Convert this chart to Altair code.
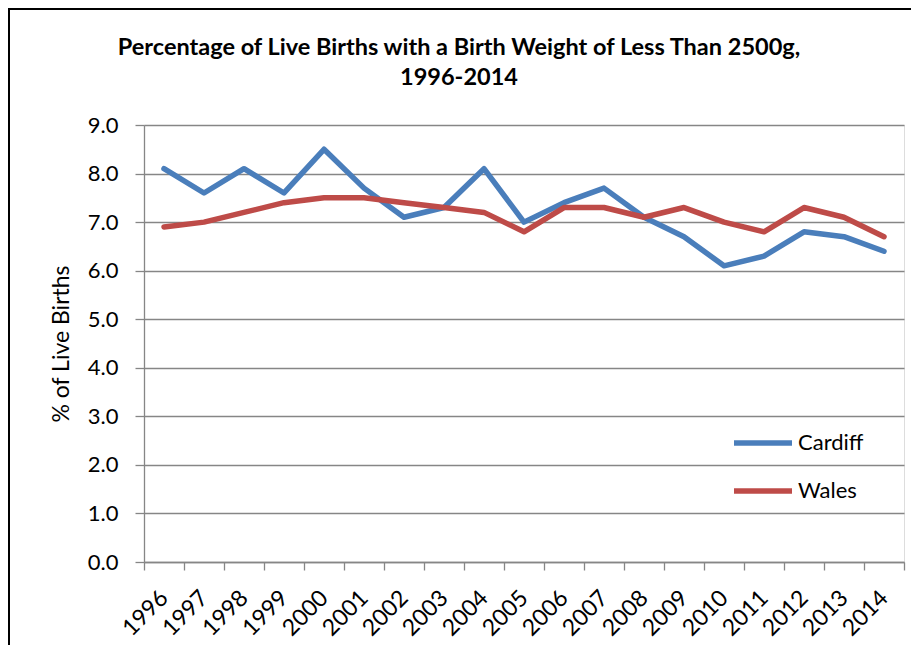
import altair as alt
import pandas as pd

years = [str(y) for y in range(1996, 2015)]
cardiff = [8.1, 7.6, 8.1, 7.6, 8.5, 7.7, 7.1, 7.3, 8.1, 7.0, 7.4, 7.7, 7.1, 6.7, 6.1, 6.3, 6.8, 6.7, 6.4]
wales = [6.9, 7.0, 7.2, 7.4, 7.5, 7.5, 7.4, 7.3, 7.2, 6.8, 7.3, 7.3, 7.1, 7.3, 7.0, 6.8, 7.3, 7.1, 6.7]
series_names = ["Cardiff", "Wales"]
series_colors = ["#4A7EBB", "#BE4B48"]
y_ticks = [0, 1, 2, 3, 4, 5, 6, 7, 8, 9]
title_lines = ["Percentage of Live Births with a Birth Weight of Less Than 2500g,", "1996-2014"]
y_title = "% of Live Births"

rows = []
for name, vals in zip(series_names, [cardiff, wales]):
    for yr, v in zip(years, vals):
        rows.append({"Year": yr, "Series": name, "Value": v})
df = pd.DataFrame(rows)

FONT = "Lato"
GRID = "#868686"
W, H = 760, 437

lines = alt.Chart(df).mark_line(strokeWidth=5.5, strokeCap="round", strokeJoin="round").encode(
    x=alt.X("Year:O", bandPosition=0.5,
            scale=alt.Scale(type="band", paddingInner=0, paddingOuter=0),
            axis=alt.Axis(title=None, labelAngle=-45, labelAlign="right", labelBaseline="middle",
                          labelFont=FONT, labelFontSize=23, labelColor="black", labelPadding=24,
                          tickBand="extent", tickSize=8, tickColor=GRID, tickWidth=1.3,
                          domainColor=GRID, domainWidth=1.3, grid=False, labelOverlap=False)),
    y=alt.Y("Value:Q", scale=alt.Scale(domain=[0, 9], nice=False),
            axis=alt.Axis(values=y_ticks, format=".1f", title=y_title,
                          titleFont=FONT, titleFontSize=23, titleFontWeight="normal", titleColor="black",
                          titleAngle=-90, titleX=-83, titleY=H / 2, titleAlign="center", titleBaseline="middle",
                          labelFont=FONT, labelFontSize=22, labelColor="black", labelPadding=17,
                          tickSize=9, tickColor=GRID, tickWidth=1.3,
                          domainColor=GRID, domainWidth=1.3,
                          grid=True, gridColor=GRID, gridWidth=1.3)),
    color=alt.Color("Series:N", scale=alt.Scale(domain=series_names, range=series_colors),
                    legend=alt.Legend(title=None, orient="none", legendX=587, legendY=286,
                                      symbolType="stroke", symbolSize=3364, symbolStrokeWidth=5.5,
                                      labelFont=FONT, labelFontSize=22, labelColor="black",
                                      labelOffset=3, rowPadding=5)),
)

frame_left = alt.Chart(df).mark_rule(color="black", strokeWidth=2).encode(
    x=alt.value(-135), y=alt.value(-117), y2=alt.value(H + 83))
frame_top = alt.Chart(df).mark_rule(color="black", strokeWidth=2).encode(
    x=alt.value(-136), x2=alt.value(W + 7), y=alt.value(-116))

chart = alt.layer(lines, frame_left, frame_top).properties(
    width=W, height=H,
    autosize=alt.AutoSizeParams(type="none"),
    padding={"left": 136, "top": 117, "right": 7, "bottom": 83},
    title=alt.TitleParams(text=title_lines, font=FONT, fontSize=23.5, fontWeight="bold", color="black",
                          anchor="middle", frame="group", dx=-65, dy=118, offset=36, lineHeight=30),
).configure_view(stroke=None).configure(background="white")

chart.save("out.html", embed_options={"renderer": "svg", "actions": False})
